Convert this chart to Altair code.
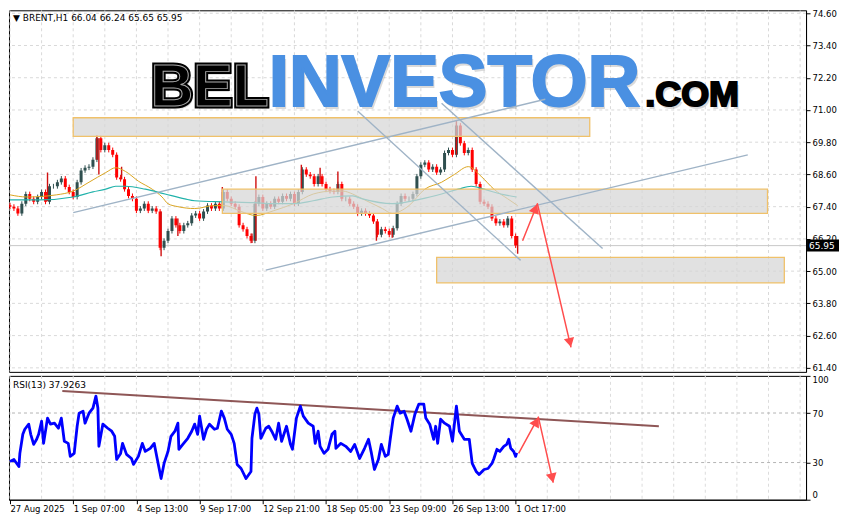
import altair as alt
import pandas as pd

# ---------------- data ----------------
symbol_line = "▼ BRENT,H1  66.04 66.24 65.65 65.95"
rsi_caption = "RSI(13) 37.9263"
last_price = 65.95

price_ticks = [61.40, 62.60, 63.80, 65.00, 66.20, 67.40, 68.60, 69.80, 71.00, 72.20, 73.40, 74.60]
rsi_ticks = [0, 30, 70, 100]
rsi_levels = [30, 70]
time_tick_bars = [0, 64, 128, 192, 256, 320, 384, 448, 512]
time_tick_labels = ["27 Aug 2025", "1 Sep 07:00", "4 Sep 13:00", "9 Sep 17:00", "12 Sep 21:00",
                    "18 Sep 05:00", "23 Sep 09:00", "26 Sep 13:00", "1 Oct 17:00"]
grid_bars = [0, 32, 64, 96, 128, 160, 192, 224, 256, 288, 320, 352, 384, 416, 448, 480, 512,
             544, 576, 608, 640, 672, 704, 736, 768, 800]

# 4-hour candles (bar index = hours from 27 Aug)
candle_bars = list(range(0, 513, 4))
first_open = 67.45
candle_close = [
    67.40, 67.33, 67.15, 67.51, 67.87, 67.69, 67.58, 67.76, 67.95, 67.58,
    68.16, 68.16, 68.31, 68.45, 68.13, 67.95, 67.76, 68.31, 68.75, 68.85,
    68.89, 69.15, 69.95, 69.51, 69.69, 69.51, 69.33, 68.49, 68.42, 68.05,
    67.80, 67.69, 67.25, 67.33, 67.51, 67.25, 67.33, 67.22, 65.87, 66.13,
    66.49, 66.96, 66.71, 66.49, 66.71, 66.78, 67.07, 67.15, 66.96, 67.22,
    67.44, 67.33, 67.51, 67.33, 67.95, 67.69, 67.51, 67.40, 66.71, 66.56,
    66.31, 66.13, 67.51, 67.76, 67.33, 67.51, 67.40, 67.69, 67.58, 67.80,
    67.69, 67.87, 67.51, 67.95, 68.78, 68.60, 68.53, 68.24, 68.53, 68.24,
    68.05, 67.98, 67.95, 68.24, 67.69, 67.69, 67.51, 67.40, 67.15, 67.25,
    67.15, 67.07, 66.85, 66.35, 66.56, 66.49, 66.35, 66.60, 67.51, 67.80,
    67.69, 67.69, 67.87, 68.53, 68.96, 69.04, 68.78, 68.89, 68.67, 68.78,
    69.40, 69.51, 69.33, 70.42, 69.76, 69.40, 69.51, 68.78, 68.24, 67.58,
    67.51, 67.40, 66.96, 66.78, 66.85, 66.71, 66.96, 66.31, 65.95,
]
wick_ext = 0.09  # drawing style: how far a wick reaches past a body

wick_bars = [38, 88, 90, 113, 153, 170, 215, 245, 249, 295, 314, 332, 371, 387, 452, 514]
wick_low = [67.60, 69.15, 68.60, 68.42, 65.55, 66.31, 67.33, 66.05, 66.13, 67.95, 68.24, 67.95, 66.13, 66.24, 69.33, 65.65]
wick_high = [68.67, 70.05, 69.95, 68.89, 67.22, 66.96, 68.13, 66.40, 68.53, 68.96, 68.85, 68.71, 66.85, 66.60, 70.60, 66.31]

ma_fast_bars = [0, 17, 47, 64, 80, 97, 107, 117, 130, 144, 154, 160, 170, 187, 207, 217, 234, 249,
                267, 287, 307, 327, 337, 347, 357, 377, 387, 404, 420, 437, 450, 464, 477, 490, 504, 514]
ma_fast = [67.84, 67.76, 67.84, 67.98, 68.31, 68.67, 68.85, 68.71, 68.35, 68.05, 67.76, 67.51, 67.40,
           67.33, 67.44, 67.44, 67.22, 67.07, 67.25, 67.51, 67.87, 67.98, 67.98, 67.87, 67.69, 67.33,
           67.15, 67.44, 68.05, 68.31, 68.60, 68.89, 68.53, 68.05, 67.69, 67.44]
ma_slow_bars = [0, 30, 64, 84, 97, 107, 117, 137, 157, 177, 187, 217, 247, 267, 287, 307, 327, 347,
                357, 387, 417, 437, 454, 467, 480, 497, 513]
ma_slow = [67.65, 67.65, 67.76, 67.95, 68.05, 68.16, 68.16, 68.05, 67.87, 67.69, 67.62, 67.58, 67.55,
           67.51, 67.51, 67.62, 67.76, 67.80, 67.69, 67.51, 67.69, 67.87, 68.05, 68.16, 68.05, 67.87, 67.76]

rsi_bars = [0, 4, 9, 10, 13, 15, 19, 21, 24, 27, 29, 32, 34, 38, 41, 45, 49, 52, 55, 59, 61, 65, 68, 70,
            74, 76, 80, 84, 87, 89, 90, 94, 99, 103, 106, 108, 112, 114, 118, 123, 125, 130, 134, 137,
            142, 146, 149, 153, 156, 160, 163, 167, 170, 171, 175, 180, 184, 187, 190, 192, 196, 199,
            202, 207, 210, 214, 217, 220, 224, 227, 230, 234, 239, 244, 245, 248, 250, 252, 254, 259,
            262, 265, 269, 272, 275, 280, 284, 286, 290, 294, 297, 302, 307, 309, 312, 314, 318, 322,
            326, 329, 330, 335, 340, 345, 349, 354, 359, 363, 366, 369, 373, 376, 380, 383, 385, 388,
            392, 395, 399, 402, 406, 410, 414, 419, 421, 425, 429, 431, 433, 436, 440, 445, 448, 452,
            455, 460, 465, 468, 472, 475, 480, 484, 488, 490, 493, 496, 500, 503, 505, 507, 510, 512, 513]
rsi_vals = [30.9, 32.5, 26.8, 37.4, 52.8, 56.9, 61.0, 52.8, 44.7, 48.8, 52.8, 63.4, 45.5, 65.9, 61.0,
            61.8, 57.7, 65.9, 47.2, 45.5, 35.0, 37.4, 59.3, 69.9, 71.5, 61.8, 69.9, 74.0, 83.7, 74.0,
            43.1, 61.0, 57.7, 55.3, 51.2, 32.5, 37.4, 45.5, 36.6, 33.3, 28.5, 35.0, 45.5, 39.0, 41.5,
            45.5, 33.3, 17.1, 29.3, 39.0, 51.2, 55.3, 61.8, 40.7, 44.7, 49.6, 55.3, 61.0, 52.8, 67.5,
            48.8, 56.9, 61.0, 56.9, 57.7, 71.5, 65.9, 56.9, 52.8, 45.5, 28.5, 25.2, 17.1, 22.8, 49.6,
            69.1, 74.0, 69.1, 49.6, 57.7, 59.3, 55.3, 48.8, 61.8, 47.2, 59.3, 44.7, 40.7, 65.9, 75.6,
            67.5, 61.8, 59.3, 45.5, 55.3, 43.1, 37.4, 40.7, 52.8, 55.3, 41.5, 45.5, 43.1, 39.0, 44.7,
            33.3, 41.5, 48.8, 37.4, 24.4, 32.5, 44.7, 35.0, 36.6, 48.8, 65.9, 75.6, 69.9, 71.5, 65.0,
            55.3, 69.1, 77.2, 77.2, 65.9, 61.0, 48.8, 59.3, 45.5, 65.0, 61.8, 59.3, 47.2, 75.6, 55.3,
            48.8, 48.8, 29.3, 22.8, 20.3, 24.4, 25.2, 29.3, 33.3, 40.7, 39.0, 43.1, 44.7, 48.8, 41.5,
            39.0, 35.0, 37.9]

# drawn objects (bar index, price)
zone_bar0 = [64, 215, 432]
zone_bar1 = [587, 767, 784]
zone_lo = [70.02, 67.15, 64.56]
zone_hi = [70.71, 68.05, 65.51]

trend_id = ["a", "a", "b", "b", "c", "c", "d", "d"]
trend_bar = [64, 542, 259, 747, 352, 517, 437, 600]
trend_price = [67.18, 71.40, 65.04, 69.33, 70.96, 65.40, 71.25, 65.84]

arrow_bar = [519, 534, 568]
arrow_price = [66.13, 67.51, 62.16]
head_bar = [532, 567]
head_price = [67.33, 62.34]
head_angle = [21, 167]

rsi_trend_bar = [53, 657]
rsi_trend_val = [87.8, 59.3]
rsi_arrow_bar = [515, 535, 550]
rsi_arrow_val = [37.4, 66.7, 13.8]
rsi_head_bar = [533, 549]
rsi_head_val = [63.0, 17.5]
rsi_head_angle = [29, 167]

logo_parts = ["BEL", "INVESTOR", ".COM"]

# ---------------- layout ----------------
W = 798
H_MAIN = 362
H_RSI = 124
FONT = "DejaVu Sans"
FS = 8.5

xscale = alt.Scale(domain=[-1, 806], nice=False, zero=False)
pscale = alt.Scale(domain=[61.25, 74.71], nice=False, zero=False)
rscale = alt.Scale(domain=[0, 100], nice=False, zero=False)

paxis = alt.Axis(values=price_ticks, orient="right", format=".2f", tickSize=4, labelPadding=2,
                 title=None, grid=False, labelFlush=False, labelOverlap=False)
raxis = alt.Axis(values=rsi_ticks, orient="right", format="d", tickSize=4, labelPadding=2,
                 title=None, grid=False, labelFlush=True, labelOverlap=False)
expr = ""
for b, l in zip(time_tick_bars, time_tick_labels):
    expr += f"datum.value == {b} ? '{l}' : "
expr += "''"
xaxis = alt.Axis(values=time_tick_bars, labelExpr=expr, labelAlign="left", labelBaseline="top",
                 labelPadding=1, tickSize=4, title=None, grid=False, labelFlush=False,
                 labelOverlap=False)


def XM(f):
    return alt.X(f"{f}:Q", scale=xscale, axis=None)


def YM(f):
    return alt.Y(f"{f}:Q", scale=pscale, axis=paxis)


def XR(f):
    return alt.X(f"{f}:Q", scale=xscale, axis=xaxis)


def YR(f):
    return alt.Y(f"{f}:Q", scale=rscale, axis=raxis)


LINE = dict(strokeJoin="round", clip=True)

# ---------- main panel ----------
opens = [first_open] + candle_close[:-1]
cdf = pd.DataFrame({"bar": candle_bars, "open": opens, "close": candle_close})
cdf["dir"] = ["up" if c >= o else "down" for o, c in zip(cdf["open"], cdf["close"])]
cdf["lo"] = [min(o, c) - wick_ext for o, c in zip(cdf["open"], cdf["close"])]
cdf["hi"] = [max(o, c) + wick_ext for o, c in zip(cdf["open"], cdf["close"])]
dir_color = alt.Color("dir:N", scale=alt.Scale(domain=["up", "down"], range=["#2f4f4f", "#ff0000"]),
                      legend=None)

grid_h = alt.Chart(pd.DataFrame({"p": price_ticks})).mark_rule(
    color="#d9d9d9", strokeDash=[3, 3], strokeWidth=1, clip=True).encode(y=YM("p"))
grid_v = alt.Chart(pd.DataFrame({"b": grid_bars})).mark_rule(
    color="#d9d9d9", strokeDash=[3, 3], strokeWidth=1, clip=True).encode(x=XM("b"))
bid_line = alt.Chart(pd.DataFrame({"p": [last_price]})).mark_rule(
    color="#c8c8c8", strokeWidth=1, clip=True).encode(y=YM("p"))

cwicks = alt.Chart(cdf).mark_rule(strokeWidth=1, clip=True).encode(
    x=XM("bar"), y=YM("lo"), y2="hi", color=dir_color)
bodies = alt.Chart(cdf).mark_rule(strokeWidth=3, clip=True).encode(
    x=XM("bar"), y=YM("open"), y2="close", color=dir_color)
wdf = pd.DataFrame({"bar": wick_bars, "lo": wick_low, "hi": wick_high})
wicks = alt.Chart(wdf).mark_rule(strokeWidth=1.4, color="#d01010", clip=True).encode(
    x=XM("bar"), y=YM("lo"), y2="hi")

ma1 = alt.Chart(pd.DataFrame({"bar": ma_fast_bars, "v": ma_fast})).mark_line(
    color="#daa520", strokeWidth=1, interpolate="monotone", **LINE).encode(x=XM("bar"), y=YM("v"))
ma2 = alt.Chart(pd.DataFrame({"bar": ma_slow_bars, "v": ma_slow})).mark_line(
    color="#20b2aa", strokeWidth=1.2, interpolate="monotone", **LINE).encode(x=XM("bar"), y=YM("v"))

zdf = pd.DataFrame({"b0": zone_bar0, "b1": zone_bar1, "lo": zone_lo, "hi": zone_hi})
zones = alt.Chart(zdf).mark_rect(fill="#d6d6d6", fillOpacity=0.72, stroke="#f0c16a",
                                 strokeWidth=1.3, clip=True).encode(
    x=XM("b0"), x2="b1", y=YM("lo"), y2="hi")

tdf = pd.DataFrame({"id": trend_id, "bar": trend_bar, "p": trend_price})
trends = alt.Chart(tdf).mark_line(color="#9fb3c6", strokeWidth=1.4, **LINE).encode(
    x=XM("bar"), y=YM("p"), detail="id:N")

adf = pd.DataFrame({"bar": arrow_bar, "p": arrow_price, "o": [0, 1, 2]})
arrow = alt.Chart(adf).mark_line(color="#ff4d4d", strokeWidth=1.5, **LINE).encode(
    x=XM("bar"), y=YM("p"), order="o:Q")
hdf = pd.DataFrame({"bar": head_bar, "p": head_price, "a": head_angle})
heads = alt.Chart(hdf).mark_point(shape="triangle-up", filled=True, size=110, color="#ff4d4d",
                                  opacity=1, clip=True).encode(
    x=XM("bar"), y=YM("p"), angle=alt.Angle("a:Q", scale=None))

title_txt = alt.Chart(pd.DataFrame({"t": [symbol_line]})).mark_text(
    align="left", baseline="middle", font=FONT, fontSize=FS + 0.5, color="black").encode(
    text="t:N", x=alt.value(4), y=alt.value(8))

LOGO_FONT = "Liberation Sans"
LOGO_Y = 96
logo_specs = [
    (logo_parts[0], 142, 59, "#000000"),
    (logo_parts[1], 260, 73, "#4a90e2"),
    (logo_parts[2], 637, 36, "#000000"),
]
logo_layers = []
for txt, lx, fsz, col in logo_specs:
    ldf = pd.DataFrame({"t": [txt]})
    shadow = alt.Chart(ldf).mark_text(align="left", baseline="alphabetic", font=LOGO_FONT,
                                      fontWeight="bold", fontSize=fsz, color="#888888",
                                      opacity=0.3, dx=2, dy=3).encode(
        text="t:N", x=alt.value(lx), y=alt.value(LOGO_Y))
    logo_layers.append(shadow)
    if txt == "BEL":
        thick = alt.Chart(ldf).mark_text(align="left", baseline="alphabetic", font=LOGO_FONT,
                                         fontWeight="bold", fontSize=fsz, color=col,
                                         stroke="#000000", strokeWidth=5).encode(
            text="t:N", x=alt.value(lx), y=alt.value(LOGO_Y))
        inner = alt.Chart(ldf).mark_text(align="left", baseline="alphabetic", font=LOGO_FONT,
                                         fontWeight="bold", fontSize=fsz, color=col,
                                         stroke="#a8a8a8", strokeWidth=1).encode(
            text="t:N", x=alt.value(lx), y=alt.value(LOGO_Y))
        logo_layers += [thick, inner]
    else:
        main_t = alt.Chart(ldf).mark_text(align="left", baseline="alphabetic", font=LOGO_FONT,
                                          fontWeight="bold", fontSize=fsz, color=col,
                                          stroke=col, strokeWidth=2).encode(
            text="t:N", x=alt.value(lx), y=alt.value(LOGO_Y))
        logo_layers.append(main_t)

pdf = pd.DataFrame({"p": [last_price], "t": [f"{last_price:.2f}"]})
price_box = alt.Chart(pdf).mark_rect(color="black", yOffset=-6, y2Offset=6).encode(
    x=alt.value(W + 1), x2=alt.value(W + 33), y=YM("p"), y2="p")
price_lbl = alt.Chart(pdf).mark_text(align="left", baseline="middle", font=FONT, fontSize=FS + 0.5,
                                     color="white").encode(
    x=alt.value(W + 3), y=YM("p"), text="t:N")

main = alt.layer(grid_h, grid_v, bid_line, *logo_layers, cwicks, bodies, wicks, ma1, ma2, zones,
                 trends, arrow, heads, title_txt, price_box, price_lbl).properties(
    width=W, height=H_MAIN)

# ---------- RSI panel ----------
rgrid_v = alt.Chart(pd.DataFrame({"b": grid_bars})).mark_rule(
    color="#dcdcdc", strokeDash=[3, 3], strokeWidth=1, clip=True).encode(x=XR("b"))
rlevels = alt.Chart(pd.DataFrame({"v": rsi_levels})).mark_rule(
    color="#b4b4b4", strokeDash=[3, 3], strokeWidth=1, clip=True).encode(y=YR("v"))
rtrend = alt.Chart(pd.DataFrame({"bar": rsi_trend_bar, "v": rsi_trend_val})).mark_line(
    color="#8e5656", strokeWidth=2, **LINE).encode(x=XR("bar"), y=YR("v"))
rline = alt.Chart(pd.DataFrame({"bar": rsi_bars, "v": rsi_vals})).mark_line(
    color="#0000ff", strokeWidth=2.8, **LINE).encode(x=XR("bar"), y=YR("v"))
radf = pd.DataFrame({"bar": rsi_arrow_bar, "v": rsi_arrow_val, "o": [0, 1, 2]})
rarrow = alt.Chart(radf).mark_line(color="#ff4d4d", strokeWidth=1.5, **LINE).encode(
    x=XR("bar"), y=YR("v"), order="o:Q")
rhdf = pd.DataFrame({"bar": rsi_head_bar, "v": rsi_head_val, "a": rsi_head_angle})
rheads = alt.Chart(rhdf).mark_point(shape="triangle-up", filled=True, size=120, color="#ff4d4d",
                                    opacity=1, clip=True).encode(
    x=XR("bar"), y=YR("v"), angle=alt.Angle("a:Q", scale=None))
rcap = alt.Chart(pd.DataFrame({"t": [rsi_caption]})).mark_text(
    align="left", baseline="middle", font=FONT, fontSize=FS + 0.5, color="black").encode(
    text="t:N", x=alt.value(4), y=alt.value(9))

rsi = alt.layer(rgrid_v, rlevels, rtrend, rline, rarrow, rheads, rcap).properties(
    width=W, height=H_RSI)

chart = alt.vconcat(main, rsi, spacing=2).properties(
    background="white", padding={"left": 0, "top": 0, "right": 0, "bottom": 0},
    autosize=alt.AutoSizeParams(type="pad")
).configure(padding=0).configure_view(stroke="black", strokeWidth=1).configure_axis(
    domainColor="black", tickColor="black", labelColor="black", labelFont=FONT, labelFontSize=FS,
    domainWidth=1, tickWidth=1)

chart.save("out.html", embed_options={"renderer": "svg", "actions": False})
